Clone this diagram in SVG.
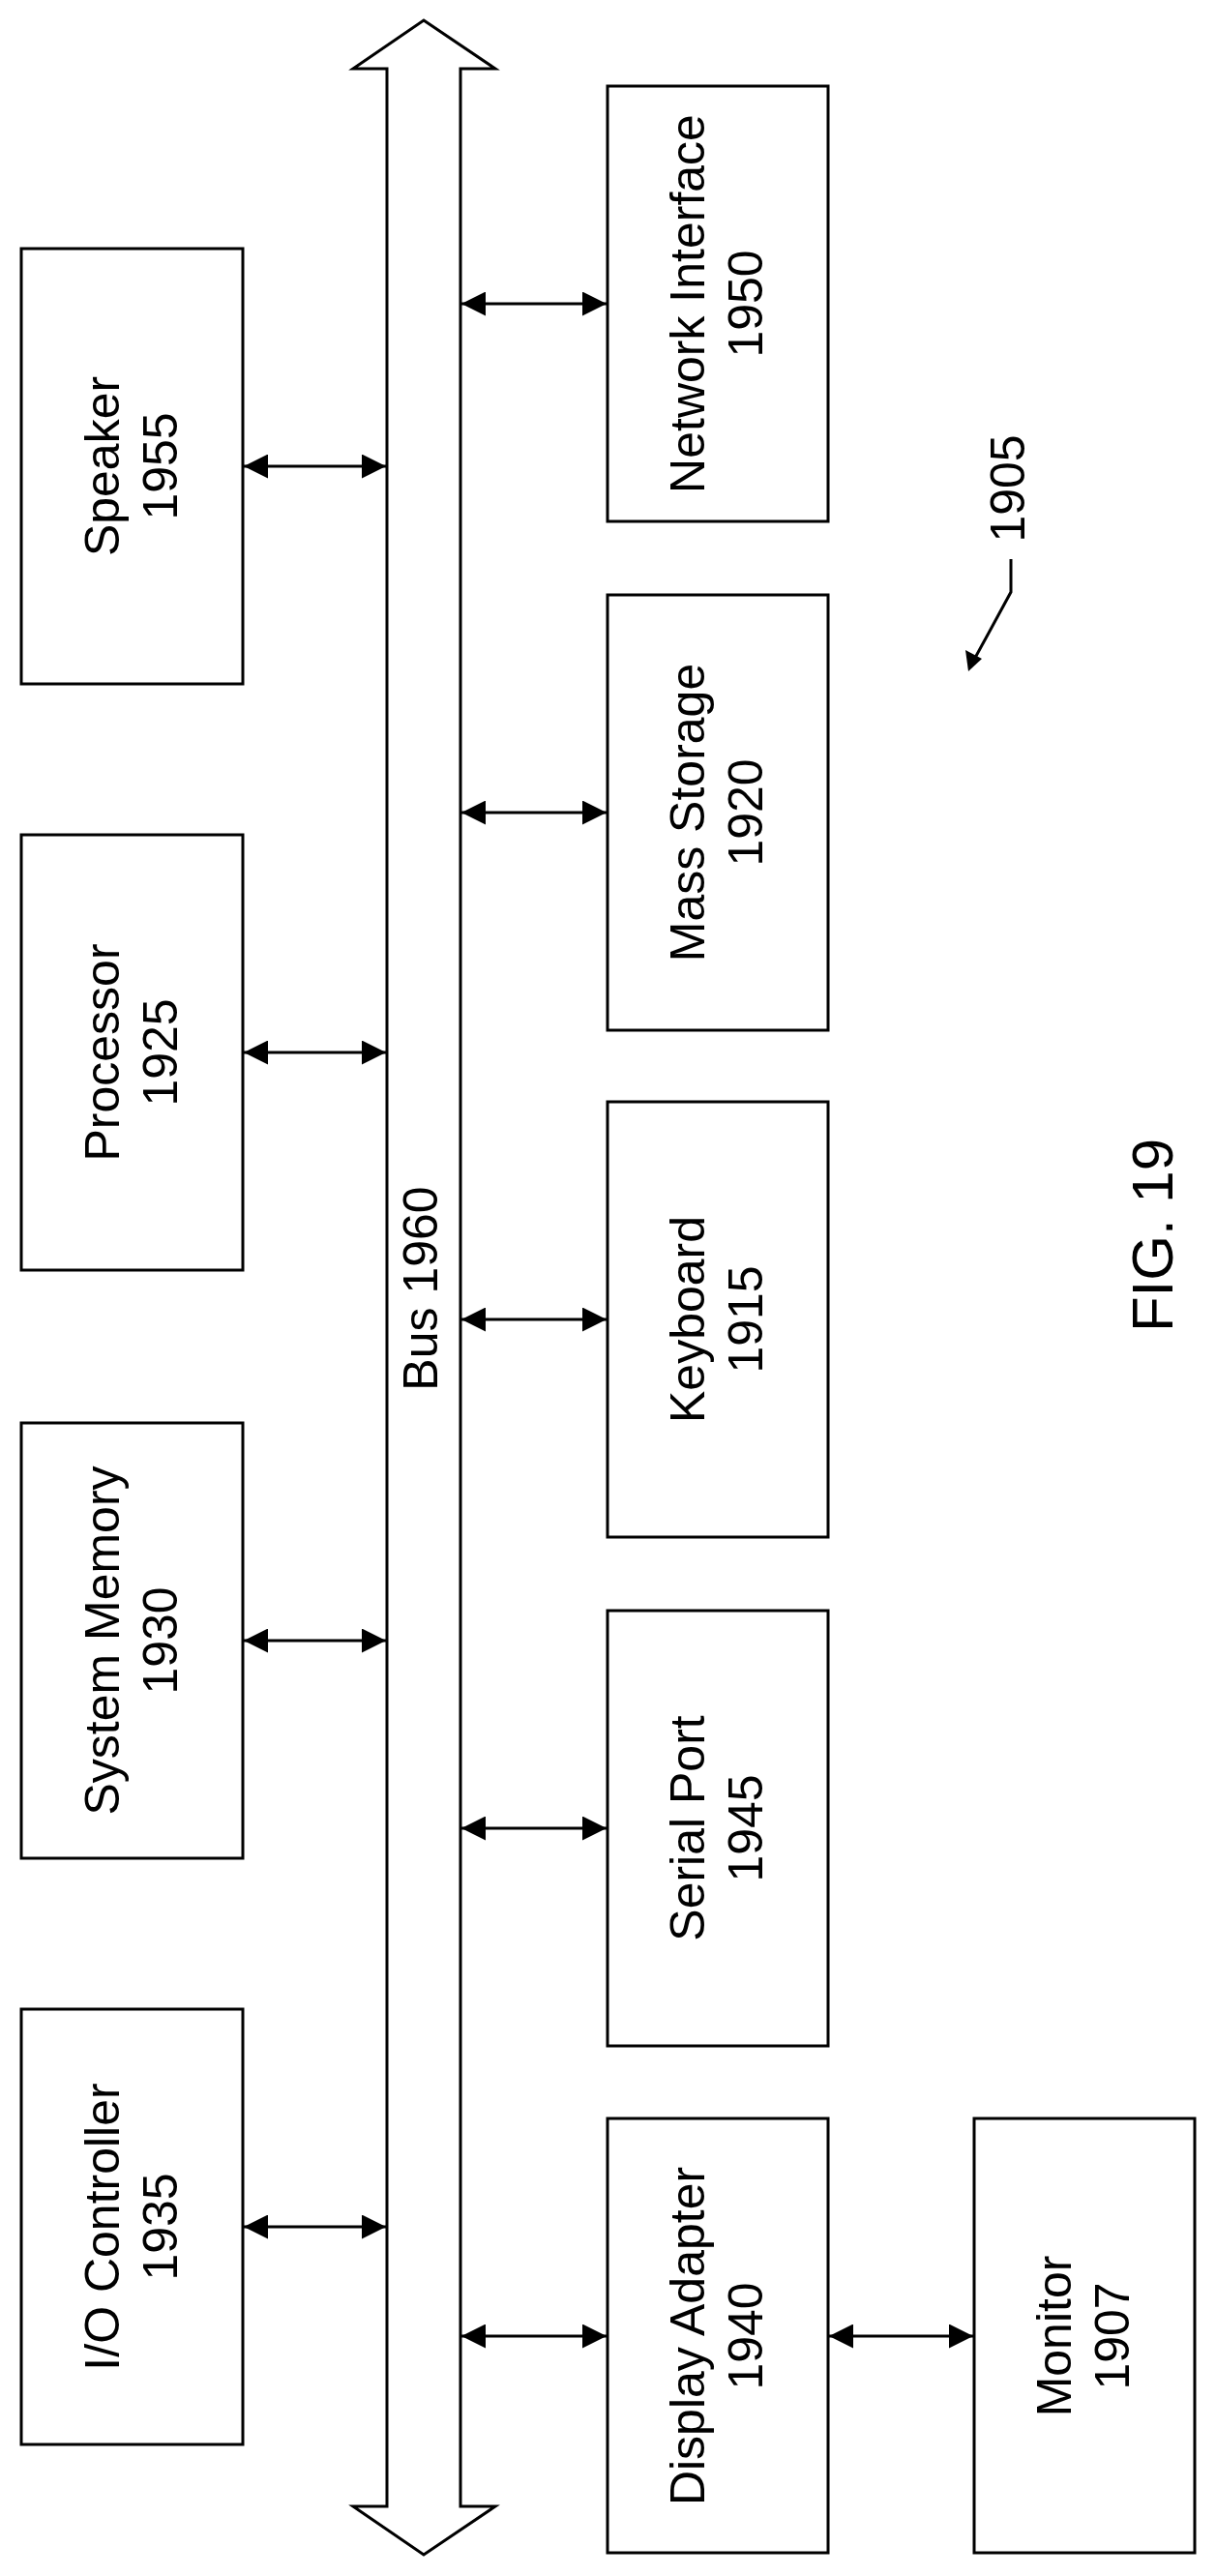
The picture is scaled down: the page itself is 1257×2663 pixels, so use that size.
<svg xmlns="http://www.w3.org/2000/svg" width="1257" height="2663" viewBox="0 0 1257 2663">
<style>
.box{fill:#fff;stroke:#000;stroke-width:3}
.t{font-family:"Liberation Sans",Arial,sans-serif;font-size:50px;text-anchor:middle;fill:#000}
.c{stroke:#000;stroke-width:3;fill:none}
</style>
<defs>
<marker id="a" viewBox="0 0 10 10" refX="10" refY="5" markerWidth="25" markerHeight="25" markerUnits="userSpaceOnUse" orient="auto-start-reverse"><path d="M0,0L10,5L0,10z" fill="#000"/></marker>
</defs>
<rect width="1257" height="2663" fill="#fff"/>
<g id="bus">
<polygon points="438,21 512,71 476,71 476,2591 512,2591 438,2641 365,2591 400,2591 400,71 365,71" fill="#fff" stroke="#000" stroke-width="3"/>
<text class="t" transform="translate(438,1332) rotate(-90)" y="14">Bus 1960</text>
</g>
<g id="speaker"><rect class="box" x="22" y="257" width="229" height="450"/><text class="t" transform="translate(136,482) rotate(-90)"><tspan x="0" y="-13">Speaker</tspan><tspan x="0" y="47">1955</tspan></text></g>
<g id="processor"><rect class="box" x="22" y="863" width="229" height="450"/><text class="t" transform="translate(136,1088) rotate(-90)"><tspan x="0" y="-13">Processor</tspan><tspan x="0" y="47">1925</tspan></text></g>
<g id="sysmem"><rect class="box" x="22" y="1471" width="229" height="450"/><text class="t" transform="translate(136,1696) rotate(-90)"><tspan x="0" y="-13">System Memory</tspan><tspan x="0" y="47">1930</tspan></text></g>
<g id="io"><rect class="box" x="22" y="2077" width="229" height="450"/><text class="t" transform="translate(136,2302) rotate(-90)"><tspan x="0" y="-13">I/O Controller</tspan><tspan x="0" y="47">1935</tspan></text></g>
<g id="network"><rect class="box" x="628" y="89" width="228" height="450"/><text class="t" transform="translate(742,314) rotate(-90)"><tspan x="0" y="-14">Network Interface</tspan><tspan x="0" y="46">1950</tspan></text></g>
<g id="mass"><rect class="box" x="628" y="615" width="228" height="450"/><text class="t" transform="translate(742,840) rotate(-90)"><tspan x="0" y="-14">Mass Storage</tspan><tspan x="0" y="46">1920</tspan></text></g>
<g id="keyboard"><rect class="box" x="628" y="1139" width="228" height="450"/><text class="t" transform="translate(742,1364) rotate(-90)"><tspan x="0" y="-14">Keyboard</tspan><tspan x="0" y="46">1915</tspan></text></g>
<g id="serial"><rect class="box" x="628" y="1665" width="228" height="450"/><text class="t" transform="translate(742,1890) rotate(-90)"><tspan x="0" y="-14">Serial Port</tspan><tspan x="0" y="46">1945</tspan></text></g>
<g id="display"><rect class="box" x="628" y="2190" width="228" height="449"/><text class="t" transform="translate(742,2415) rotate(-90)"><tspan x="0" y="-14">Display Adapter</tspan><tspan x="0" y="46">1940</tspan></text></g>
<g id="monitor"><rect class="box" x="1007" y="2190" width="228" height="449"/><text class="t" transform="translate(1121,2415) rotate(-90)"><tspan x="0" y="-14">Monitor</tspan><tspan x="0" y="46">1907</tspan></text></g>
<g id="connectors">
<line class="c" x1="252" y1="482" x2="399" y2="482" marker-start="url(#a)" marker-end="url(#a)"/>
<line class="c" x1="252" y1="1088" x2="399" y2="1088" marker-start="url(#a)" marker-end="url(#a)"/>
<line class="c" x1="252" y1="1696" x2="399" y2="1696" marker-start="url(#a)" marker-end="url(#a)"/>
<line class="c" x1="252" y1="2302" x2="399" y2="2302" marker-start="url(#a)" marker-end="url(#a)"/>
<line class="c" x1="477" y1="314" x2="627" y2="314" marker-start="url(#a)" marker-end="url(#a)"/>
<line class="c" x1="477" y1="840" x2="627" y2="840" marker-start="url(#a)" marker-end="url(#a)"/>
<line class="c" x1="477" y1="1364" x2="627" y2="1364" marker-start="url(#a)" marker-end="url(#a)"/>
<line class="c" x1="477" y1="1890" x2="627" y2="1890" marker-start="url(#a)" marker-end="url(#a)"/>
<line class="c" x1="477" y1="2415" x2="627" y2="2415" marker-start="url(#a)" marker-end="url(#a)"/>
<line class="c" x1="857" y1="2415" x2="1006" y2="2415" marker-start="url(#a)" marker-end="url(#a)"/>
</g>
<g id="ref1905">
<text class="t" transform="translate(1041,505) rotate(-90)" y="18">1905</text>
<polyline class="c" points="1045,578 1045,612 1008,680" stroke-width="2.5"/>
<polygon points="1001,694 998,672 1015,681" fill="#000"/>
</g>
<text class="t" style="font-size:60px" transform="translate(1190,1277) rotate(-90)" y="22">FIG. 19</text>
</svg>
